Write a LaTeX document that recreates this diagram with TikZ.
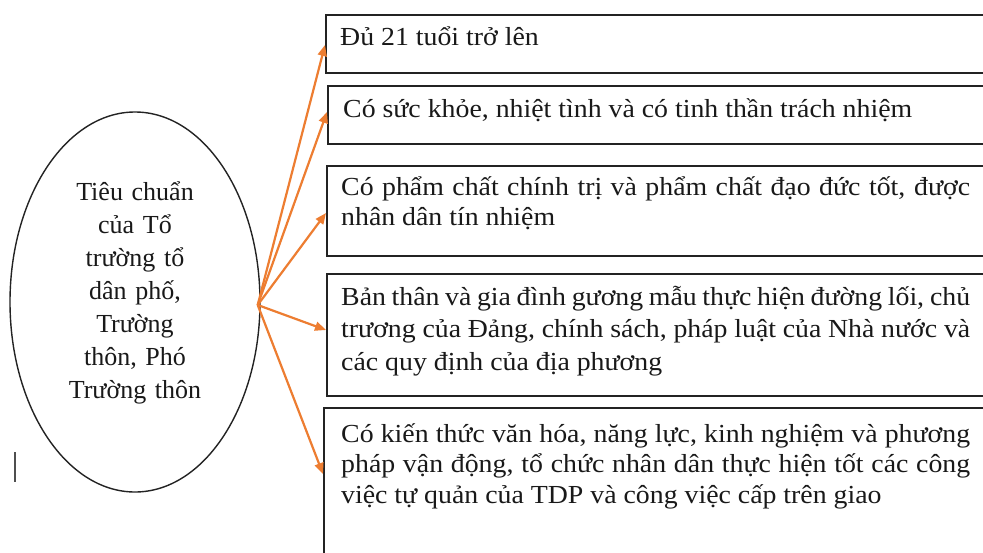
\documentclass[tikz,border=0pt]{standalone}
\usepackage{fontspec}
\setmainfont{Liberation Serif}
\newfontfamily\boxfont{Liberation Serif}[FakeStretch=1.07]
\usetikzlibrary{arrows.meta,calc,shapes.geometric}
\definecolor{arrorange}{RGB}{237,125,49}
\definecolor{inkline}{RGB}{35,35,35}
\definecolor{inktext}{RGB}{25,25,25}
\tikzset{
  box/.style={draw=inkline, line width=1.7pt, rectangle, inner sep=0pt, anchor=north west},
  boxtext/.style={anchor=base west, inner sep=0pt, text width=629pt, align=justify, text=inktext,
    font=\boxfont\fontsize{26}{#1}\selectfont},
  boxtext/.default=31,
  elltext/.style={anchor=base, inner sep=0pt, text width=200pt, align=center, text=inktext,
    font=\fontsize{26}{33}\selectfont},
  arr/.style={draw=arrorange, line width=2.2pt, -{Triangle[length=11pt,width=9pt]}},
  oval/.style={draw=inkline, line width=1.4pt, ellipse, inner sep=0pt, minimum width=250pt, minimum height=380pt}
}
\begin{document}
\begin{tikzpicture}[x=1pt,y=-1pt]
\clip (0,0) rectangle (983,552);
\fill[white] (0,0) rectangle (983,552);

% central ellipse
\node[oval] (e) at (135,302) {};
\node[elltext] (et) at (135,200) {Tiêu chuẩn\\của Tổ\\trường tổ\\dân phố,\\Trường\\thôn, Phó\\Trường thôn};

% boxes
\node[box, minimum width=665pt, minimum height=58pt] (b1) at (325,14) {};
\node[box, minimum width=663pt, minimum height=58pt] (b2) at (327,85) {};
\node[box, minimum width=664pt, minimum height=90pt] (b3) at (326,165) {};
\node[box, minimum width=664pt, minimum height=122pt] (b4) at (326,273) {};
\node[box, minimum width=667pt, minimum height=170pt] (b5) at (323,407) {};

% box texts
\node[boxtext] (t1) at (340,45) {Đủ 21 tuổi trở lên};
\node[boxtext] (t2) at (343,117) {Có sức khỏe, nhiệt tình và có tinh thần trách nhiệm};
\node[boxtext=30] (t3) at (341,195) {Có phẩm chất chính trị và phẩm chất đạo đức tốt, được\linebreak nhân dân tín nhiệm};
\node[boxtext=32.5] (t4) at (341,305) {Bản thân và gia đình gương mẫu thực hiện đường lối, chủ\linebreak trương của Đảng, chính sách, pháp luật của Nhà nước và\linebreak các quy định của địa phương};
\node[boxtext=30.5] (t5) at (341,442) {Có kiến thức văn hóa, năng lực, kinh nghiệm và phương\linebreak pháp vận động, tổ chức nhân dân thực hiện tốt các công\linebreak việc tự quản của TDP và công việc cấp trên giao};

% connectors
\coordinate (o) at ($(e.east)+(-3,3)$);
\draw[arr] (o) -- ($(b1.north west)+(0,31)$);
\draw[arr] (o) -- ($(b2.north west)+(0,27)$);
\draw[arr] (o) -- ($(b3.north west)+(0,48)$);
\draw[arr] (o) -- ($(b4.north west)+(0,57)$);
\draw[arr] (o) -- ($(b5.north west)+(0,67)$);

% stray cursor mark
\draw[draw=inkline!80, line width=1.5pt] (15,452) -- (15,482);
\end{tikzpicture}
\end{document}
